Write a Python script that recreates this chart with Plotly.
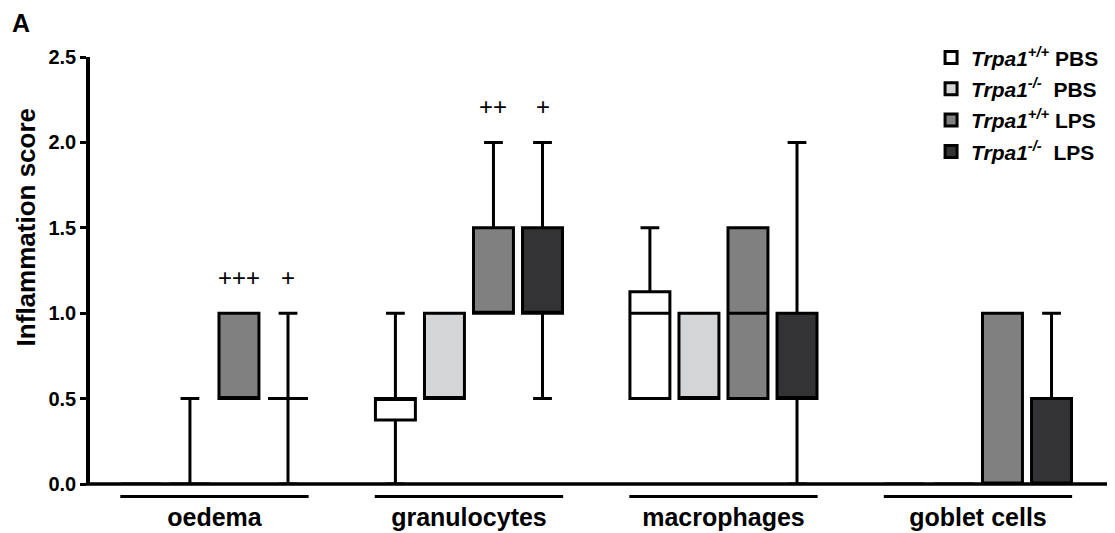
import plotly.graph_objects as go

categories = ["oedema", "granulocytes", "macrophages", "goblet cells"]
series_names = [
    "<b><i>Trpa1<sup>+/+</sup></i> PBS</b>",
    "<b><i>Trpa1<sup>-/-</sup></i>  PBS</b>",
    "<b><i>Trpa1<sup>+/+</sup></i> LPS</b>",
    "<b><i>Trpa1<sup>-/-</sup></i>  LPS</b>",
]
series_colors = ["#ffffff", "#d4d5d7", "#808080", "#333335"]

# per series, per category: min, q1, median, q3, max
wt_pbs_min = [0.0, 0.0, 0.5, 0.0]
wt_pbs_q1 = [0.0, 0.375, 0.5, 0.0]
wt_pbs_med = [0.0, 0.5, 1.0, 0.0]
wt_pbs_q3 = [0.0, 0.5, 1.125, 0.0]
wt_pbs_max = [0.0, 1.0, 1.5, 0.0]

ko_pbs_min = [0.0, 0.5, 0.5, 0.0]
ko_pbs_q1 = [0.0, 0.5, 0.5, 0.0]
ko_pbs_med = [0.0, 0.5, 0.5, 0.0]
ko_pbs_q3 = [0.0, 1.0, 1.0, 0.0]
ko_pbs_max = [0.5, 1.0, 1.0, 0.0]

wt_lps_min = [0.5, 1.0, 0.5, 0.0]
wt_lps_q1 = [0.5, 1.0, 0.5, 0.0]
wt_lps_med = [0.5, 1.0, 1.0, 0.0]
wt_lps_q3 = [1.0, 1.5, 1.5, 1.0]
wt_lps_max = [1.0, 2.0, 1.5, 1.0]

ko_lps_min = [0.0, 0.5, 0.0, 0.0]
ko_lps_q1 = [0.5, 1.0, 0.5, 0.0]
ko_lps_med = [0.5, 1.0, 0.5, 0.0]
ko_lps_q3 = [0.5, 1.5, 1.0, 0.5]
ko_lps_max = [1.0, 2.0, 2.0, 1.0]

sig_labels = [["", "", "+++", "+"], ["", "", "++", "+"], ["", "", "", ""], ["", "", "", ""]]

stats = [
    (wt_pbs_min, wt_pbs_q1, wt_pbs_med, wt_pbs_q3, wt_pbs_max),
    (ko_pbs_min, ko_pbs_q1, ko_pbs_med, ko_pbs_q3, ko_pbs_max),
    (wt_lps_min, wt_lps_q1, wt_lps_med, wt_lps_q3, wt_lps_max),
    (ko_lps_min, ko_lps_q1, ko_lps_med, ko_lps_q3, ko_lps_max),
]

offsets = [-0.289, -0.0963, 0.0963, 0.289]
box_w = 0.157
FONT = "Liberation Sans, Arial"

fig = go.Figure()
for i, (mn, q1, md, q3, mx) in enumerate(stats):
    xs = [g + offsets[i] for g in range(len(categories))]
    fig.add_trace(go.Box(
        x=xs, q1=q1, median=md, q3=q3, lowerfence=mn, upperfence=mx,
        name=series_names[i], fillcolor=series_colors[i],
        line=dict(color="black", width=3), width=box_w, whiskerwidth=0.47,
        boxpoints=False, legendgroup=str(i), hoverinfo="skip",
    ))

annotations = []
for g in range(len(categories)):
    for i in range(4):
        t = sig_labels[g][i]
        if t:
            top = stats[i][4][g]
            annotations.append(dict(
                x=g + offsets[i], y=top, xref="x", yref="y", text=t,
                showarrow=False, yanchor="middle", yshift=36,
                font=dict(family=FONT, size=24, color="black")))

annotations.append(dict(xref="paper", yref="paper", x=-0.068, y=1.08,
                        xanchor="center", yanchor="middle", text="<b>A</b>", showarrow=False,
                        font=dict(family=FONT, size=25, color="black")))
# y-axis title
annotations.append(dict(xref="paper", yref="paper", x=-0.0625, y=0.602,
                        xanchor="center", yanchor="middle", textangle=-90,
                        text="<b>Inflammation score</b>", showarrow=False,
                        font=dict(family=FONT, size=26, color="black")))

shapes = []
for g in range(len(categories)):
    shapes.append(dict(type="line", xref="x", yref="paper", x0=g - 0.37, x1=g + 0.37,
                       y0=-0.029, y1=-0.029, line=dict(color="black", width=3)))
# x-axis baseline drawn above the boxes
shapes.append(dict(type="line", xref="paper", yref="paper", x0=-0.004, x1=1.0,
                   y0=0, y1=0, layer="above", line=dict(color="black", width=3.5)))

fig.update_layout(
    width=1115, height=533,
    margin=dict(l=90, r=8, t=57, b=49),
    plot_bgcolor="white", paper_bgcolor="white",
    boxmode="overlay",
    font=dict(family=FONT, color="black"),
    showlegend=True,
    legend=dict(x=0.827, y=1.046, xanchor="left", yanchor="top",
                font=dict(size=21, family=FONT, color="black"),
                tracegroupgap=1, bgcolor="rgba(0,0,0,0)"),
    annotations=annotations,
    shapes=shapes,
)
fig.update_xaxes(range=[-0.489, 3.507], showline=False, automargin=False,
                 tickvals=list(range(len(categories))),
                 ticktext=["<b>%s</b>" % c for c in categories],
                 ticks="", showgrid=False, zeroline=False,
                 tickfont=dict(size=25, family=FONT, color="black"),
                 ticklabelstandoff=16)
fig.update_yaxes(range=[0, 2.5], showline=True, linewidth=3.5, linecolor="black",
                 automargin=False,
                 tickvals=[0, 0.5, 1.0, 1.5, 2.0, 2.5],
                 ticktext=["<b>0.0</b>", "<b>0.5</b>", "<b>1.0</b>", "<b>1.5</b>", "<b>2.0</b>", "<b>2.5</b>"],
                 ticks="outside", ticklen=6, tickwidth=3, tickcolor="black",
                 showgrid=False, zeroline=False,
                 tickfont=dict(size=20, family=FONT, color="black"))

fig.write_html("out.html")
